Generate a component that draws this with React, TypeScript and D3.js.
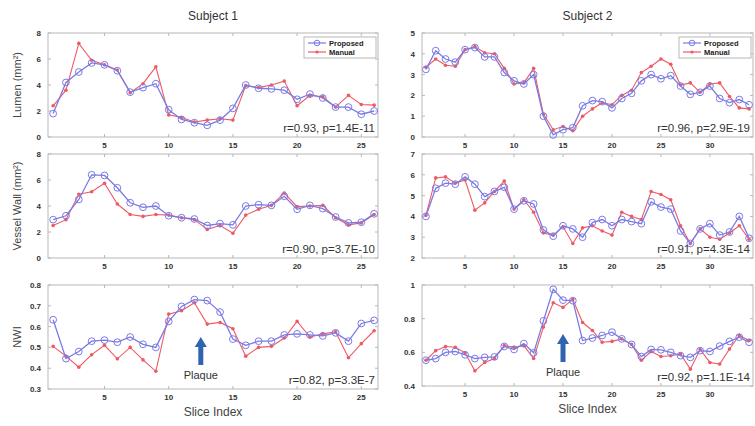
import React from "react";
import * as d3 from "d3";

const lumenS1Proposed = [1.8, 4.2, 5.0, 5.7, 5.55, 5.1, 3.45, 3.8, 4.1, 2.1, 1.35, 1.1, 0.9, 1.3, 2.2, 4.0, 3.75, 3.7, 3.6, 2.9, 3.3, 3.0, 2.3, 2.3, 1.75, 2.0];
const lumenS1Manual = [2.4, 3.6, 7.2, 5.9, 5.55, 5.15, 3.4, 4.1, 5.4, 1.7, 1.5, 1.15, 1.3, 1.4, 1.3, 3.95, 3.8, 4.0, 4.3, 2.4, 3.2, 3.1, 2.3, 3.2, 2.5, 2.45];

const lumenS2Proposed = [3.25, 4.15, 3.75, 3.6, 4.2, 4.3, 3.85, 3.85, 3.1, 2.7, 2.55, 3.0, 1.0, 0.1, 0.35, 0.45, 1.5, 1.75, 1.7, 1.4, 1.85, 2.1, 2.7, 3.0, 2.8, 2.95, 2.45, 2.05, 2.15, 2.45, 1.85, 1.65, 1.8, 1.55];
const lumenS2Manual = [3.35, 3.75, 3.45, 3.4, 4.2, 4.35, 4.05, 4.0, 3.3, 2.55, 2.6, 3.3, 1.1, 0.35, 0.5, 0.3, 1.0, 1.35, 1.65, 1.55, 2.0, 2.25, 3.1, 3.4, 3.75, 3.5, 2.5, 2.6, 2.15, 2.55, 2.6, 1.95, 1.4, 1.35];

const wallS1Proposed = [2.95, 3.25, 4.5, 6.4, 6.35, 5.4, 4.25, 3.9, 4.0, 3.25, 3.1, 3.0, 2.5, 2.65, 2.55, 4.0, 4.1, 4.05, 4.75, 3.75, 4.05, 3.8, 3.15, 2.7, 2.75, 3.4];
const wallS1Manual = [2.5, 2.95, 4.9, 5.1, 5.75, 4.15, 3.35, 3.2, 3.35, 3.3, 3.1, 2.95, 2.2, 2.5, 1.9, 3.3, 3.75, 4.05, 5.0, 3.95, 4.0, 4.05, 3.1, 2.55, 2.7, 3.35];

const wallS2Proposed = [4.0, 5.35, 5.6, 5.55, 5.9, 5.55, 4.95, 5.2, 5.4, 4.35, 4.75, 4.6, 3.35, 3.05, 3.55, 3.4, 3.0, 3.7, 3.85, 3.55, 3.85, 3.75, 3.65, 4.7, 4.45, 4.35, 3.3, 2.7, 3.4, 3.65, 3.1, 3.25, 4.0, 2.95];
const wallS2Manual = [4.05, 5.85, 5.9, 5.6, 5.75, 4.3, 4.65, 5.2, 5.7, 4.35, 4.8, 4.2, 3.2, 3.1, 3.5, 2.7, 3.45, 3.55, 3.3, 3.1, 4.2, 4.0, 3.85, 5.2, 5.05, 4.8, 3.55, 2.7, 3.4, 3.0, 2.9, 3.2, 3.55, 2.9];

const nwiS1Proposed = [0.633, 0.446, 0.48, 0.53, 0.535, 0.525, 0.55, 0.515, 0.5, 0.625, 0.697, 0.73, 0.725, 0.67, 0.54, 0.51, 0.53, 0.53, 0.56, 0.565, 0.56, 0.555, 0.57, 0.53, 0.615, 0.63];
const nwiS1Manual = [0.505, 0.458, 0.405, 0.465, 0.51, 0.445, 0.5, 0.44, 0.385, 0.66, 0.676, 0.715, 0.612, 0.62, 0.59, 0.458, 0.5, 0.505, 0.545, 0.625, 0.55, 0.565, 0.575, 0.45, 0.518, 0.58];

const nwiS2Proposed = [0.553, 0.563, 0.6, 0.605, 0.585, 0.563, 0.57, 0.573, 0.635, 0.617, 0.652, 0.597, 0.787, 0.974, 0.91, 0.907, 0.67, 0.685, 0.7, 0.72, 0.68, 0.647, 0.575, 0.617, 0.615, 0.6, 0.58, 0.57, 0.61, 0.605, 0.637, 0.665, 0.69, 0.66];
const nwiS2Manual = [0.553, 0.61, 0.635, 0.63, 0.597, 0.49, 0.54, 0.563, 0.64, 0.63, 0.64, 0.563, 0.75, 0.895, 0.867, 0.915, 0.777, 0.73, 0.66, 0.665, 0.68, 0.647, 0.553, 0.605, 0.575, 0.58, 0.59, 0.5, 0.617, 0.54, 0.53, 0.62, 0.7, 0.67];

const xTicksS1 = [5, 10, 15, 20, 25];
const xTicksS2 = [5, 10, 15, 20, 25, 30];
const seriesNames = ["Proposed", "Manual"];
const subjects = ["Subject 1", "Subject 2"];

const blue = "#7a7ae6";
const red = "#ee5a62";
const font = "'Liberation Sans', Arial, sans-serif";

type Panel = {
  left: number; top: number; width: number; height: number;
  proposed: number[]; manual: number[];
  xDomain: [number, number]; xTicks: number[];
  yDomain: [number, number]; yTicks: number[]; yFmt: (v: number) => string;
  ylabel?: string; stat: string; legend?: boolean; plaque?: number; xlabel?: boolean;
};

const cols = [{ left: 48, width: 330 }, { left: 422, width: 331 }];
const rows = [{ top: 33, height: 104 }, { top: 154, height: 104 }, { top: 285, height: 104 }];

const panels: Panel[] = [
  { ...cols[0], ...rows[0], proposed: lumenS1Proposed, manual: lumenS1Manual, xDomain: [0.6, 26.3], xTicks: xTicksS1,
    yDomain: [0, 8], yTicks: [0, 2, 4, 6, 8], yFmt: d3.format("d"), ylabel: "Lumen (mm²)", stat: "r=0.93, p=1.4E-11", legend: true },
  { ...cols[1], ...rows[0], proposed: lumenS2Proposed, manual: lumenS2Manual, xDomain: [0.6, 34.4], xTicks: xTicksS2,
    yDomain: [0, 5], yTicks: [0, 1, 2, 3, 4, 5], yFmt: d3.format("d"), stat: "r=0.96, p=2.9E-19", legend: true },
  { ...cols[0], ...rows[1], proposed: wallS1Proposed, manual: wallS1Manual, xDomain: [0.6, 26.3], xTicks: xTicksS1,
    yDomain: [0, 8], yTicks: [0, 2, 4, 6, 8], yFmt: d3.format("d"), ylabel: "Vessel Wall (mm²)", stat: "r=0.90, p=3.7E-10" },
  { ...cols[1], ...rows[1], proposed: wallS2Proposed, manual: wallS2Manual, xDomain: [0.6, 34.4], xTicks: xTicksS2,
    yDomain: [2, 7], yTicks: [2, 3, 4, 5, 6, 7], yFmt: d3.format("d"), stat: "r=0.91, p=4.3E-14" },
  { ...cols[0], ...rows[2], proposed: nwiS1Proposed, manual: nwiS1Manual, xDomain: [0.6, 26.3], xTicks: xTicksS1,
    yDomain: [0.3, 0.8], yTicks: [0.3, 0.4, 0.5, 0.6, 0.7, 0.8], yFmt: d3.format(".1f"), ylabel: "NWI", stat: "r=0.82, p=3.3E-7", plaque: 12.5, xlabel: true },
  { ...cols[1], ...rows[2], height: 101, proposed: nwiS2Proposed, manual: nwiS2Manual, xDomain: [0.6, 34.4], xTicks: xTicksS2,
    yDomain: [0.4, 1], yTicks: [0.4, 0.6, 0.8, 1], yFmt: (v) => (v === 1 ? "1" : d3.format(".1f")(v)), stat: "r=0.92, p=1.1E-14", plaque: 15, xlabel: true },
];

function PanelView({ p }: { p: Panel }) {
  const x = d3.scaleLinear().domain(p.xDomain).range([p.left, p.left + p.width]);
  const y = d3.scaleLinear().domain(p.yDomain).range([p.top + p.height, p.top]);
  const line = d3.line<number>().x((_, i) => x(i + 1)).y((d) => y(d));
  const bottom = p.top + p.height;
  const right = p.left + p.width;

  return (
    <g>
      <rect x={p.left} y={p.top} width={p.width} height={p.height} fill="#fff" stroke="#b8b8b8" strokeWidth={1} />
      {p.xTicks.map((t) => (
        <g key={"x" + t}>
          <line x1={x(t)} x2={x(t)} y1={bottom} y2={bottom - 3} stroke="#b8b8b8" />
          <line x1={x(t)} x2={x(t)} y1={p.top} y2={p.top + 3} stroke="#b8b8b8" />
          <text x={x(t)} y={bottom + 11} textAnchor="middle" fontSize={8} fontWeight="bold" fill="#333">{t}</text>
        </g>
      ))}
      {p.yTicks.map((t) => (
        <g key={"y" + t}>
          <line x1={p.left} x2={p.left + 3} y1={y(t)} y2={y(t)} stroke="#b8b8b8" />
          <line x1={right} x2={right - 3} y1={y(t)} y2={y(t)} stroke="#b8b8b8" />
          <text x={p.left - 7} y={y(t) + 3} textAnchor="end" fontSize={8} fontWeight="bold" fill="#333">{p.yFmt(t)}</text>
        </g>
      ))}
      <path d={line(p.manual) ?? ""} fill="none" stroke={red} strokeWidth={1.1} />
      {p.manual.map((v, i) => (
        <circle key={"m" + i} cx={x(i + 1)} cy={y(v)} r={1.8} fill={red} />
      ))}
      <path d={line(p.proposed) ?? ""} fill="none" stroke={blue} strokeWidth={1.3} />
      {p.proposed.map((v, i) => (
        <circle key={"p" + i} cx={x(i + 1)} cy={y(v)} r={3.4} fill="none" stroke={blue} strokeWidth={1} />
      ))}
      <text x={right - 3} y={bottom - 5} textAnchor="end" fontSize={11.5} fill="#333">{p.stat}</text>
      {p.ylabel && (
        <text transform={`translate(${p.left - 27},${p.top + p.height / 2}) rotate(-90)`} textAnchor="middle" fontSize={11} fill="#444">
          {p.ylabel}
        </text>
      )}
      {p.legend && (
        <g transform={`translate(${right - 74},${p.top + 4})`}>
          <rect width={72} height={21} fill="#fff" stroke="#b8b8b8" />
          {seriesNames.map((s, i) => (
            <g key={s} transform={`translate(0,${6 + i * 9})`}>
              <line x1={4} x2={22} stroke={i === 0 ? blue : red} strokeWidth={1.2} />
              {i === 0
                ? <circle cx={13} r={2.8} fill="none" stroke={blue} />
                : <circle cx={13} r={1.6} fill={red} />}
              <text x={25} y={3} fontSize={7.5} fontWeight="bold" fill="#222">{s}</text>
            </g>
          ))}
        </g>
      )}
      {p.plaque !== undefined && (
        <g>
          <path d={`M${x(p.plaque) - 2.5},${bottom - 24} V${bottom - 42} H${x(p.plaque) - 6} L${x(p.plaque)},${bottom - 52} L${x(p.plaque) + 6},${bottom - 42} H${x(p.plaque) + 2.5} V${bottom - 24} Z`} fill="#2f64b0" />
          <text x={x(p.plaque)} y={bottom - 10} textAnchor="middle" fontSize={11} fill="#333">Plaque</text>
        </g>
      )}
      {p.xlabel && (
        <text x={p.left + p.width / 2} y={bottom + 27} textAnchor="middle" fontSize={12} fill="#444">Slice Index</text>
      )}
    </g>
  );
}

export default function App() {
  return (
    <svg width={755} height={426} style={{ position: "absolute", left: 0, top: 0, fontFamily: font }}>
      <rect width={755} height={426} fill="#fff" />
      {subjects.map((s, i) => (
        <text key={s} x={cols[i].left + cols[i].width / 2} y={20} textAnchor="middle" fontSize={12} fill="#333">{s}</text>
      ))}
      {panels.map((p, i) => <PanelView key={i} p={p} />)}
    </svg>
  );
}
